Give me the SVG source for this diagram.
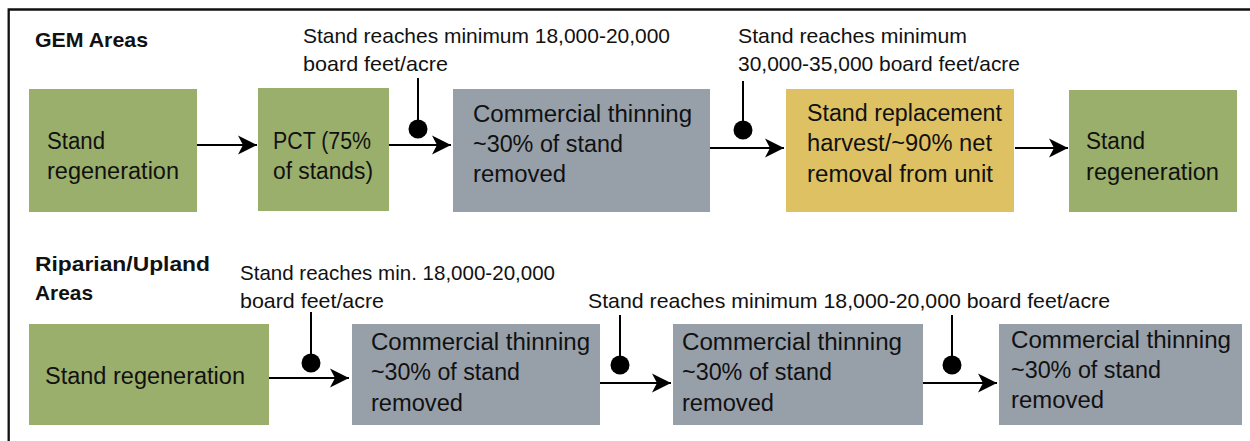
<svg xmlns="http://www.w3.org/2000/svg" width="1250" height="441" viewBox="0 0 1250 441">
<defs>
<style>
text{font-family:"Liberation Sans","Noto Sans",Arial,sans-serif;fill:#111;}
.h{font-size:21px;font-weight:bold;}
.a{font-size:21px;}
.b{font-size:23px;}
.green{fill:#9aaf6b;}
.gray{fill:#979fa9;}
.yellow{fill:#dec163;}
.ln{stroke:#000;stroke-width:2;fill:none;}
.dot{fill:#000;}
</style>
<marker id="ah" markerUnits="userSpaceOnUse" markerWidth="22" markerHeight="22" viewBox="-1 -11 22 22" refX="19" refY="0" orient="auto">
<path d="M0,-9.5 L19,0 L0,9.5 L5,0 Z" fill="#000"/>
</marker>
</defs>
<rect width="1250" height="441" fill="#fff"/>
<path d="M8.7,441 V9.5 H1250" stroke="#111" stroke-width="2.3" fill="none"/>

<text class="h" x="35" y="47" textLength="113" lengthAdjust="spacingAndGlyphs">GEM Areas</text>
<text class="a" x="303" y="43" textLength="367" lengthAdjust="spacingAndGlyphs">Stand reaches minimum 18,000-20,000</text>
<text class="a" x="303" y="71" textLength="145" lengthAdjust="spacingAndGlyphs">board feet/acre</text>
<text class="a" x="738" y="43" textLength="229" lengthAdjust="spacingAndGlyphs">Stand reaches minimum</text>
<text class="a" x="738" y="71" textLength="282" lengthAdjust="spacingAndGlyphs">30,000-35,000 board feet/acre</text>

<text class="h" x="35" y="271" textLength="175" lengthAdjust="spacingAndGlyphs">Riparian/Upland</text>
<text class="h" x="35" y="300" textLength="58" lengthAdjust="spacingAndGlyphs">Areas</text>
<text class="a" x="240" y="280" textLength="315" lengthAdjust="spacingAndGlyphs">Stand reaches min. 18,000-20,000</text>
<text class="a" x="240" y="308" textLength="144" lengthAdjust="spacingAndGlyphs">board feet/acre</text>
<text class="a" x="588" y="308" textLength="522" lengthAdjust="spacingAndGlyphs">Stand reaches minimum 18,000-20,000 board feet/acre</text>

<g id="connectors">
<line class="ln" x1="197" y1="145" x2="257" y2="145" marker-end="url(#ah)"/>
<line class="ln" x1="389" y1="145" x2="451" y2="145" marker-end="url(#ah)"/>
<line class="ln" x1="418" y1="78" x2="418" y2="129"/>
<circle class="dot" cx="418" cy="129" r="9.5"/>
<line class="ln" x1="710" y1="148" x2="784" y2="148" marker-end="url(#ah)"/>
<line class="ln" x1="743" y1="81" x2="743" y2="130"/>
<circle class="dot" cx="743" cy="130" r="9.5"/>
<line class="ln" x1="1015" y1="148" x2="1068" y2="148" marker-end="url(#ah)"/>

<line class="ln" x1="269" y1="378" x2="349" y2="378" marker-end="url(#ah)"/>
<line class="ln" x1="311" y1="312" x2="311" y2="363"/>
<circle class="dot" cx="311" cy="363" r="9.5"/>
<line class="ln" x1="600" y1="383" x2="671" y2="383" marker-end="url(#ah)"/>
<line class="ln" x1="620" y1="315" x2="620" y2="365"/>
<circle class="dot" cx="620" cy="365" r="9.5"/>
<line class="ln" x1="923" y1="383" x2="997" y2="383" marker-end="url(#ah)"/>
<line class="ln" x1="952" y1="315" x2="952" y2="365"/>
<circle class="dot" cx="952" cy="365" r="9.5"/>
</g>

<g id="gem-regen1">
<rect class="green" x="29" y="89" width="168" height="123"/>
<text class="b" x="47" y="149" textLength="58" lengthAdjust="spacingAndGlyphs">Stand</text>
<text class="b" x="47" y="179" textLength="132" lengthAdjust="spacingAndGlyphs">regeneration</text>
</g>
<g id="gem-pct">
<rect class="green" x="258" y="88" width="131" height="123"/>
<text class="b" x="273" y="149" textLength="98" lengthAdjust="spacingAndGlyphs">PCT (75%</text>
<text class="b" x="273" y="179" textLength="100" lengthAdjust="spacingAndGlyphs">of stands)</text>
</g>
<g id="gem-thin">
<rect class="gray" x="453" y="89" width="257" height="123"/>
<text class="b" x="473" y="122" textLength="219" lengthAdjust="spacingAndGlyphs">Commercial thinning</text>
<text class="b" x="473" y="152" textLength="150" lengthAdjust="spacingAndGlyphs">~30% of stand</text>
<text class="b" x="473" y="182" textLength="93" lengthAdjust="spacingAndGlyphs">removed</text>
</g>
<g id="gem-replace">
<rect class="yellow" x="786" y="89" width="228" height="123"/>
<text class="b" x="807" y="121" textLength="195" lengthAdjust="spacingAndGlyphs">Stand replacement</text>
<text class="b" x="807" y="151" textLength="185" lengthAdjust="spacingAndGlyphs">harvest/~90% net</text>
<text class="b" x="807" y="182" textLength="186" lengthAdjust="spacingAndGlyphs">removal from unit</text>
</g>
<g id="gem-regen2">
<rect class="green" x="1069" y="90" width="168" height="122"/>
<text class="b" x="1086" y="149" textLength="59" lengthAdjust="spacingAndGlyphs">Stand</text>
<text class="b" x="1086" y="180" textLength="133" lengthAdjust="spacingAndGlyphs">regeneration</text>
</g>

<g id="rip-regen">
<rect class="green" x="29" y="324" width="240" height="101"/>
<text class="b" x="45" y="384" textLength="200" lengthAdjust="spacingAndGlyphs">Stand regeneration</text>
</g>
<g id="rip-thin1">
<rect class="gray" x="352" y="324" width="248" height="101"/>
<text class="b" x="371" y="350" textLength="219" lengthAdjust="spacingAndGlyphs">Commercial thinning</text>
<text class="b" x="371" y="380" textLength="149" lengthAdjust="spacingAndGlyphs">~30% of stand</text>
<text class="b" x="371" y="411" textLength="92" lengthAdjust="spacingAndGlyphs">removed</text>
</g>
<g id="rip-thin2">
<rect class="gray" x="673" y="324" width="250" height="101"/>
<text class="b" x="682" y="350" textLength="220" lengthAdjust="spacingAndGlyphs">Commercial thinning</text>
<text class="b" x="682" y="380" textLength="150" lengthAdjust="spacingAndGlyphs">~30% of stand</text>
<text class="b" x="682" y="411" textLength="92" lengthAdjust="spacingAndGlyphs">removed</text>
</g>
<g id="rip-thin3">
<rect class="gray" x="999" y="324" width="243" height="101"/>
<text class="b" x="1011" y="348" textLength="220" lengthAdjust="spacingAndGlyphs">Commercial thinning</text>
<text class="b" x="1011" y="378" textLength="150" lengthAdjust="spacingAndGlyphs">~30% of stand</text>
<text class="b" x="1011" y="408" textLength="93" lengthAdjust="spacingAndGlyphs">removed</text>
</g>
</svg>
